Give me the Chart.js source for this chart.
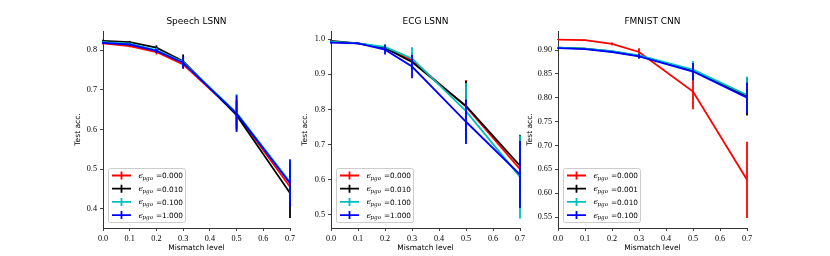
<!DOCTYPE html>
<html><head><meta charset="utf-8">
<script src="https://cdn.jsdelivr.net/npm/chart.js@4.4.0/dist/chart.umd.min.js"></script>
<style>
html,body{margin:0;padding:0;background:#fff;width:830px;height:256px;overflow:hidden;}
.p{position:absolute;top:0;height:256px;}
canvas{display:block;}
</style></head><body>
<div class="p" style="left:60px;width:240px"><canvas id="c1" width="240" height="256"></canvas></div>
<div class="p" style="left:290px;width:240px"><canvas id="c2" width="240" height="256"></canvas></div>
<div class="p" style="left:520px;width:250px"><canvas id="c3" width="250" height="256"></canvas></div>
<script>
// ---------- shared ----------
const mismatch = [0, 0.1, 0.2, 0.3, 0.5, 0.7];
const xTicks = [0, 0.1, 0.2, 0.3, 0.4, 0.5, 0.6, 0.7];
const xTickLabels = ['0.0', '0.1', '0.2', '0.3', '0.4', '0.5', '0.6', '0.7'];
const seriesColors = ['#ff0000', '#000000', '#00bfbf', '#0000ff'];
const xLabel = 'Mismatch level';
const yLabel = 'Test acc.';

// ---------- Speech LSNN ----------
const speechTitle = 'Speech LSNN';
const speechEps = ['0.000', '0.010', '0.100', '1.000'];
const speechAcc0 = [0.817, 0.810, 0.795, 0.764, 0.640, 0.456];
const speechErr0 = [0.003, 0.003, 0.006, 0.010, 0.035, 0.045];
const speechAcc1 = [0.823, 0.820, 0.806, 0.772, 0.636, 0.440];
const speechErr1 = [0.003, 0.003, 0.006, 0.017, 0.035, 0.063];
const speechAcc2 = [0.820, 0.816, 0.800, 0.770, 0.642, 0.468];
const speechErr2 = [0.003, 0.003, 0.006, 0.012, 0.047, 0.050];
const speechAcc3 = [0.818, 0.814, 0.798, 0.768, 0.640, 0.465];
const speechErr3 = [0.003, 0.003, 0.005, 0.015, 0.046, 0.060];
const speechYTicks = [0.4, 0.5, 0.6, 0.7, 0.8];
const speechYLabels = ['0.4', '0.5', '0.6', '0.7', '0.8'];
const speechYRange = [0.352, 0.848];

// ---------- ECG LSNN ----------
const ecgTitle = 'ECG LSNN';
const ecgEps = ['0.000', '0.010', '0.100', '1.000'];
const ecgAcc0 = [0.992, 0.988, 0.975, 0.940, 0.808, 0.630];
const ecgErr0 = [0.003, 0.002, 0.008, 0.020, 0.076, 0.070];
const ecgAcc1 = [0.995, 0.988, 0.975, 0.935, 0.810, 0.640];
const ecgErr1 = [0.003, 0.002, 0.008, 0.020, 0.070, 0.088];
const ecgAcc2 = [0.993, 0.988, 0.978, 0.945, 0.795, 0.608];
const ecgErr2 = [0.003, 0.002, 0.008, 0.032, 0.080, 0.118];
const ecgAcc3 = [0.990, 0.988, 0.970, 0.922, 0.765, 0.615];
const ecgErr3 = [0.003, 0.002, 0.014, 0.033, 0.063, 0.095];
const ecgYTicks = [0.5, 0.6, 0.7, 0.8, 0.9, 1.0];
const ecgYLabels = ['0.5', '0.6', '0.7', '0.8', '0.9', '1.0'];
const ecgYRange = [0.463, 1.023];

// ---------- FMNIST CNN ----------
const fmTitle = 'FMNIST CNN';
const fmEps = ['0.000', '0.001', '0.010', '0.100'];
const fmAcc0 = [0.922, 0.921, 0.913, 0.896, 0.813, 0.628];
const fmErr0 = [0.001, 0.001, 0.003, 0.008, 0.037, 0.080];
const fmAcc1 = [0.905, 0.903, 0.897, 0.888, 0.857, 0.803];
const fmErr1 = [0.001, 0.001, 0.002, 0.004, 0.016, 0.040];
const fmAcc2 = [0.905, 0.903, 0.898, 0.889, 0.859, 0.806];
const fmErr2 = [0.001, 0.001, 0.002, 0.004, 0.018, 0.038];
const fmAcc3 = [0.904, 0.902, 0.896, 0.887, 0.855, 0.800];
const fmErr3 = [0.001, 0.001, 0.002, 0.005, 0.018, 0.032];
const fmYTicks = [0.55, 0.60, 0.65, 0.70, 0.75, 0.80, 0.85, 0.90];
const fmYLabels = ['0.55', '0.60', '0.65', '0.70', '0.75', '0.80', '0.85', '0.90'];
const fmYRange = [0.527, 0.94];

// ---------- plugins ----------
const errorBarPlugin = {
  id: 'errorBars',
  afterDatasetDraw(chart, args) {
    const ds = chart.data.datasets[args.index];
    if (!ds.errors) return;
    const xs = chart.scales.x, ys = chart.scales.y;
    const ctx = chart.ctx;
    ctx.save();
    ctx.strokeStyle = ds.borderColor;
    ctx.lineWidth = ds.borderWidth;
    ctx.lineCap = 'butt';
    ds.data.forEach((p, i) => {
      const e = ds.errors[i];
      const px = xs.getPixelForValue(p.x);
      ctx.beginPath();
      ctx.moveTo(px, ys.getPixelForValue(p.y - e));
      ctx.lineTo(px, ys.getPixelForValue(p.y + e));
      ctx.stroke();
    });
    ctx.restore();
  }
};

function rr(ctx, x, y, w, h, r) {
  ctx.beginPath();
  ctx.moveTo(x + r, y);
  ctx.lineTo(x + w - r, y);
  ctx.arcTo(x + w, y, x + w, y + r, r);
  ctx.lineTo(x + w, y + h - r);
  ctx.arcTo(x + w, y + h, x + w - r, y + h, r);
  ctx.lineTo(x + r, y + h);
  ctx.arcTo(x, y + h, x, y + h - r, r);
  ctx.lineTo(x, y + r);
  ctx.arcTo(x, y, x + r, y, r);
  ctx.closePath();
}

const epsLegendPlugin = {
  id: 'epsLegend',
  afterDraw(chart, args, opts) {
    const ctx = chart.ctx;
    const ca = chart.chartArea;
    const w = 77, h = 54;
    const left = ca.left + 5, top = ca.bottom - 6 - h;
    ctx.save();
    rr(ctx, left + 0.5, top + 0.5, w, h, 2);
    ctx.fillStyle = 'rgba(255,255,255,0.8)';
    ctx.fill();
    ctx.strokeStyle = '#cccccc';
    ctx.lineWidth = 1;
    ctx.stroke();
    opts.values.forEach((v, i) => {
      const cy = top + 7.5 + i * 13.2;
      const col = seriesColors[i];
      ctx.strokeStyle = col;
      ctx.lineWidth = 1.8;
      ctx.beginPath();
      ctx.moveTo(left + 4, cy); ctx.lineTo(left + 23, cy);
      ctx.moveTo(left + 13.5, cy - 4); ctx.lineTo(left + 13.5, cy + 4);
      ctx.stroke();
      ctx.fillStyle = '#000';
      ctx.textBaseline = 'alphabetic';
      ctx.textAlign = 'left';
      ctx.font = 'italic 8px "DejaVu Serif"';
      ctx.fillText('\u03f5', left + 30.5, cy + 2.5);
      ctx.font = 'italic 5.6px "DejaVu Serif"';
      ctx.fillText('pgo', left + 34.5, cy + 4.2);
      ctx.font = '7.3px "DejaVu Sans"';
      ctx.fillText('=' + v, left + 48, cy + 2.8);
    });
    ctx.restore();
  }
};

function makePanel(id, cfg) {
  const datasets = cfg.series.map((s, i) => ({
    label: cfg.eps[i],
    data: mismatch.map((x, j) => ({ x: x, y: s[0][j] })),
    errors: s[1],
    borderColor: seriesColors[i],
    backgroundColor: seriesColors[i],
    borderWidth: 1.8,
    pointRadius: 0,
    tension: 0,
    fill: false,
    order: cfg.series.length - i
  }));
  const tickFont = { family: '"Liberation Serif", serif', size: 8.2 };
  new Chart(document.getElementById(id), {
    type: 'line',
    data: { datasets },
    plugins: [errorBarPlugin, epsLegendPlugin],
    options: {
      responsive: false,
      animation: false,
      devicePixelRatio: 1,
      layout: { padding: { left: 0, right: cfg.padR, top: 0, bottom: 0 } },
      plugins: {
        legend: { display: false },
        tooltip: { enabled: false },
        title: {
          display: true, text: cfg.title, fullSize: false, color: '#000',
          font: { family: '"DejaVu Sans", sans-serif', size: 9, weight: 'normal', lineHeight: 1.2 },
          padding: { top: 16.6, bottom: 3.6 }
        },
        epsLegend: { values: cfg.eps }
      },
      scales: {
        x: {
          type: 'linear', min: 0, max: 0.7,
          afterBuildTicks: s => { s.ticks = xTicks.map(v => ({ value: v })); },
          afterFit: s => { s.height = 28; s.paddingLeft = 0; s.paddingRight = 0; },
          ticks: {
            font: tickFont, color: '#000', padding: 2.5, maxRotation: 0,
            callback: v => xTickLabels[xTicks.findIndex(t => Math.abs(t - v) < 1e-9)]
          },
          grid: { drawOnChartArea: false, drawTicks: true, tickLength: 3, tickColor: '#333', tickWidth: 0.9 },
          border: { display: true, color: '#333', width: 1 },
          title: {
            display: true, text: xLabel, color: '#000',
            font: { family: '"DejaVu Sans", sans-serif', size: 7.5, lineHeight: 1.2 },
            padding: { top: 0, bottom: 3.5 }
          }
        },
        y: {
          type: 'linear', min: cfg.yRange[0], max: cfg.yRange[1],
          afterBuildTicks: s => { s.ticks = cfg.yTicks.map(v => ({ value: v })); },
          afterFit: s => { s.width = cfg.yW; s.paddingTop = 0; s.paddingBottom = 0; },
          ticks: {
            font: tickFont, color: '#000', padding: 3,
            callback: v => cfg.yLabels[cfg.yTicks.findIndex(t => Math.abs(t - v) < 1e-9)]
          },
          grid: { drawOnChartArea: false, drawTicks: true, tickLength: 3, tickColor: '#333', tickWidth: 0.9 },
          border: { display: true, color: '#333', width: 1 },
          title: {
            display: true, text: yLabel, color: '#000',
            font: { family: '"DejaVu Sans", sans-serif', size: 7.5, lineHeight: 1.2 },
            padding: { top: cfg.yTitlePad, bottom: 0 }
          }
        }
      }
    }
  });
}

makePanel('c1', {
  title: speechTitle, eps: speechEps,
  series: [[speechAcc0, speechErr0], [speechAcc1, speechErr1], [speechAcc2, speechErr2], [speechAcc3, speechErr3]],
  yTicks: speechYTicks, yLabels: speechYLabels, yRange: speechYRange,
  yW: 43, padR: 10, yTitlePad: 13.5
});
makePanel('c2', {
  title: ecgTitle, eps: ecgEps,
  series: [[ecgAcc0, ecgErr0], [ecgAcc1, ecgErr1], [ecgAcc2, ecgErr2], [ecgAcc3, ecgErr3]],
  yTicks: ecgYTicks, yLabels: ecgYLabels, yRange: ecgYRange,
  yW: 41, padR: 10, yTitlePad: 10.5
});
makePanel('c3', {
  title: fmTitle, eps: fmEps,
  series: [[fmAcc0, fmErr0], [fmAcc1, fmErr1], [fmAcc2, fmErr2], [fmAcc3, fmErr3]],
  yTicks: fmYTicks, yLabels: fmYLabels, yRange: fmYRange,
  yW: 38, padR: 23, yTitlePad: 5.5
});
</script>
</body></html>
